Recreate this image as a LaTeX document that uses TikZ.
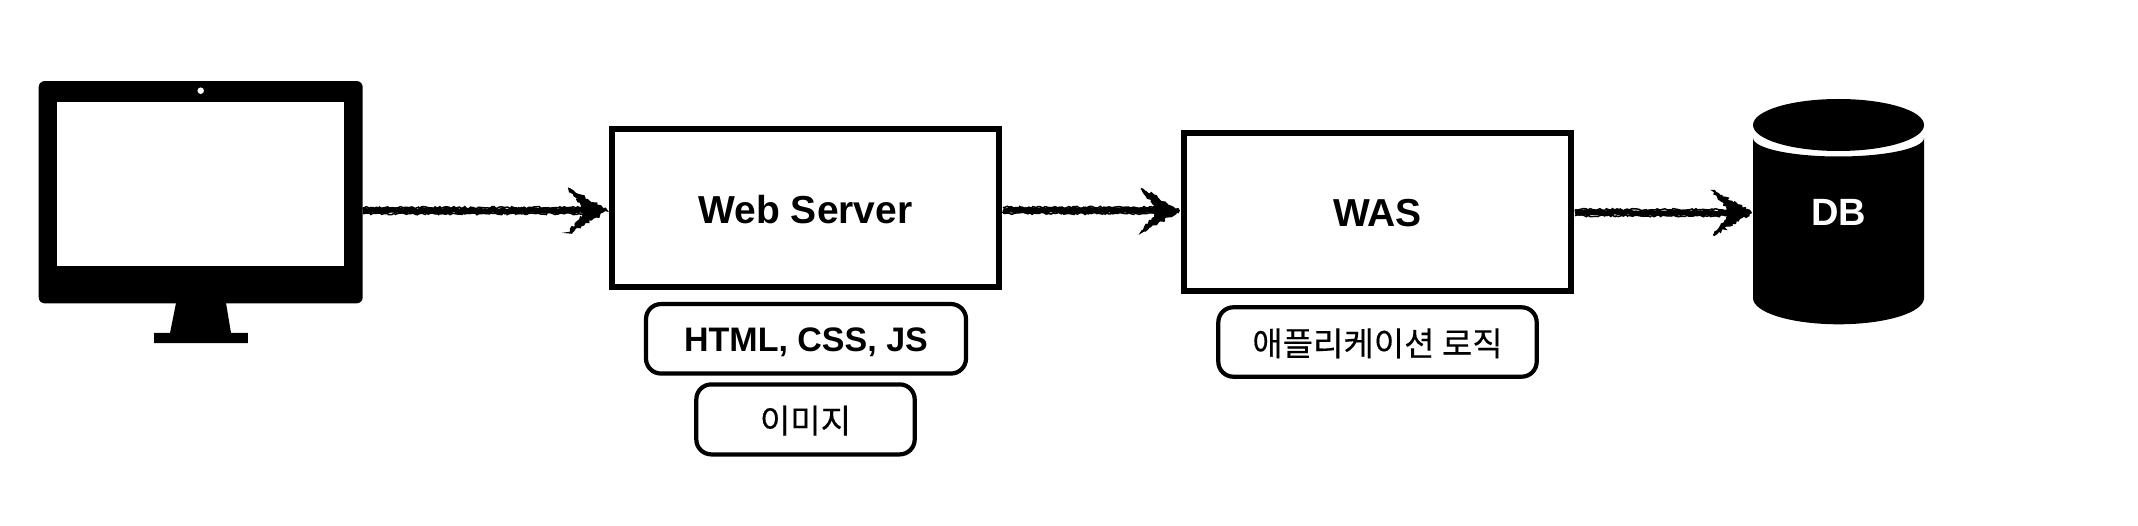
\documentclass[tikz,border=0pt]{standalone}
\usepackage{fontspec}
\setmainfont{Liberation Sans}
\newfontfamily\cjkfont[FakeBold=0.35]{Noto Sans CJK KR}
\usetikzlibrary{calc,decorations.pathmorphing}
\tikzset{
  x=1pt,y=-1pt,
  mainbox/.style={draw=black,line width=5.5pt,fill=white,inner sep=0pt,outer sep=0pt,text depth=0pt,font=\fontsize{39}{39}\selectfont\bfseries},
  subbox/.style={draw=black,line width=4.2pt,fill=white,rounded corners=15pt,inner sep=0pt,outer sep=0pt,text depth=0pt},
  latinsub/.style={font=\fontsize{34}{34}\selectfont\bfseries},
  cjksub/.style={font=\fontsize{33}{33}\cjkfont},
  solidshape/.style={fill=black,draw=none,inner sep=0pt,outer sep=0pt},
  sketchshaft/.style={draw=black,line cap=butt,decorate,decoration={random steps,segment length=2.2pt,amplitude=1.1pt}},
  sketchhead/.style={draw=black,fill=black,line width=1.6pt,decorate,decoration={random steps,segment length=2pt,amplitude=1.5pt}},
}
\newcommand{\sketcharrow}[2]{%
  \draw[sketchshaft,line width=5.5pt] (#1) -- ($(#2)+(-22,0)$);
  \draw[sketchshaft,line width=1.5pt] ($(#1)+(0,-3)$) -- ($(#2)+(-22,-3)$);
  \draw[sketchshaft,line width=1.5pt] ($(#1)+(0,3)$) -- ($(#2)+(-22,3)$);
  \path[sketchhead] (#2) -- ($(#2)+(-38,-22)$) -- ($(#2)+(-24,-5)$) -- ($(#2)+(-24,5)$) -- ($(#2)+(-38,22)$) -- cycle;
}
\begin{document}
\begin{tikzpicture}
\useasboundingbox (0,0) rectangle (2138,526);
\pgfmathsetseed{7}
% monitor
\node[solidshape,rounded corners=6pt,minimum width=324pt,minimum height=222.3pt] (monitor) at (200.7,192.2) {};
\node[fill=white,inner sep=0pt,outer sep=0pt,minimum width=287pt,minimum height=163.7pt] (screen) at (200.7,183.9) {};
\node[circle,fill=white,inner sep=0pt,minimum size=6.5pt] (camera) at (200.7,90.7) {};
\fill[black] (176,303) -- (226,303) -- (231,333) -- (247.8,333) -- (247.8,343.2) -- (154,343.2) -- (154,333) -- (170,333) -- cycle;
% boxes
\node[mainbox,minimum width=387pt,minimum height=158pt] (web) at (805.5,208.2) {\raisebox{-2pt}{Web Server}};
\node[mainbox,minimum width=387pt,minimum height=158pt] (was) at (1377.5,212) {\raisebox{-1.5pt}{WAS}};
\node[subbox,latinsub,minimum width=320pt,minimum height=69.5pt] (static) at (806,338.8) {\raisebox{-0.7pt}{HTML, CSS, JS}};
\node[subbox,cjksub,minimum width=218.4pt,minimum height=70pt] (image) at (805.5,419.4) {이미지};
\node[subbox,cjksub,minimum width=318.4pt,minimum height=69.4pt] (logic) at (1377.5,342) {애플리케이션 로직};
% database
\fill[black] (1753,138) arc[start angle=180,end angle=360,x radius=85.5pt,y radius=18.5pt] -- (1924,298) arc[start angle=360,end angle=180,x radius=85.5pt,y radius=26.3pt] -- cycle;
\fill[black] (1838.5,125) ellipse[x radius=85.5,y radius=26];
\node[inner sep=0pt,outer sep=0pt,text=white,text depth=0pt,font=\fontsize{38}{38}\selectfont\bfseries,minimum width=171pt,minimum height=225pt] (db) at (1838.5,212) {DB};
% connectors
\coordinate (a1s) at ([yshift=-18.5pt]monitor.east);
\coordinate (a1e) at ([xshift=-5pt,yshift=-2.5pt]web.west);
\coordinate (a2s) at ([xshift=4pt,yshift=-2pt]web.east);
\coordinate (a2e) at ([xshift=-5pt,yshift=1.5pt]was.west);
\coordinate (a3s) at ([xshift=4pt,yshift=-0.7pt]was.east);
\coordinate (a3e) at ([xshift=-2pt,yshift=-0.7pt]db.west);
\sketcharrow{a1s}{a1e}
\sketcharrow{a2s}{a2e}
\sketcharrow{a3s}{a3e}
\end{tikzpicture}
\end{document}
